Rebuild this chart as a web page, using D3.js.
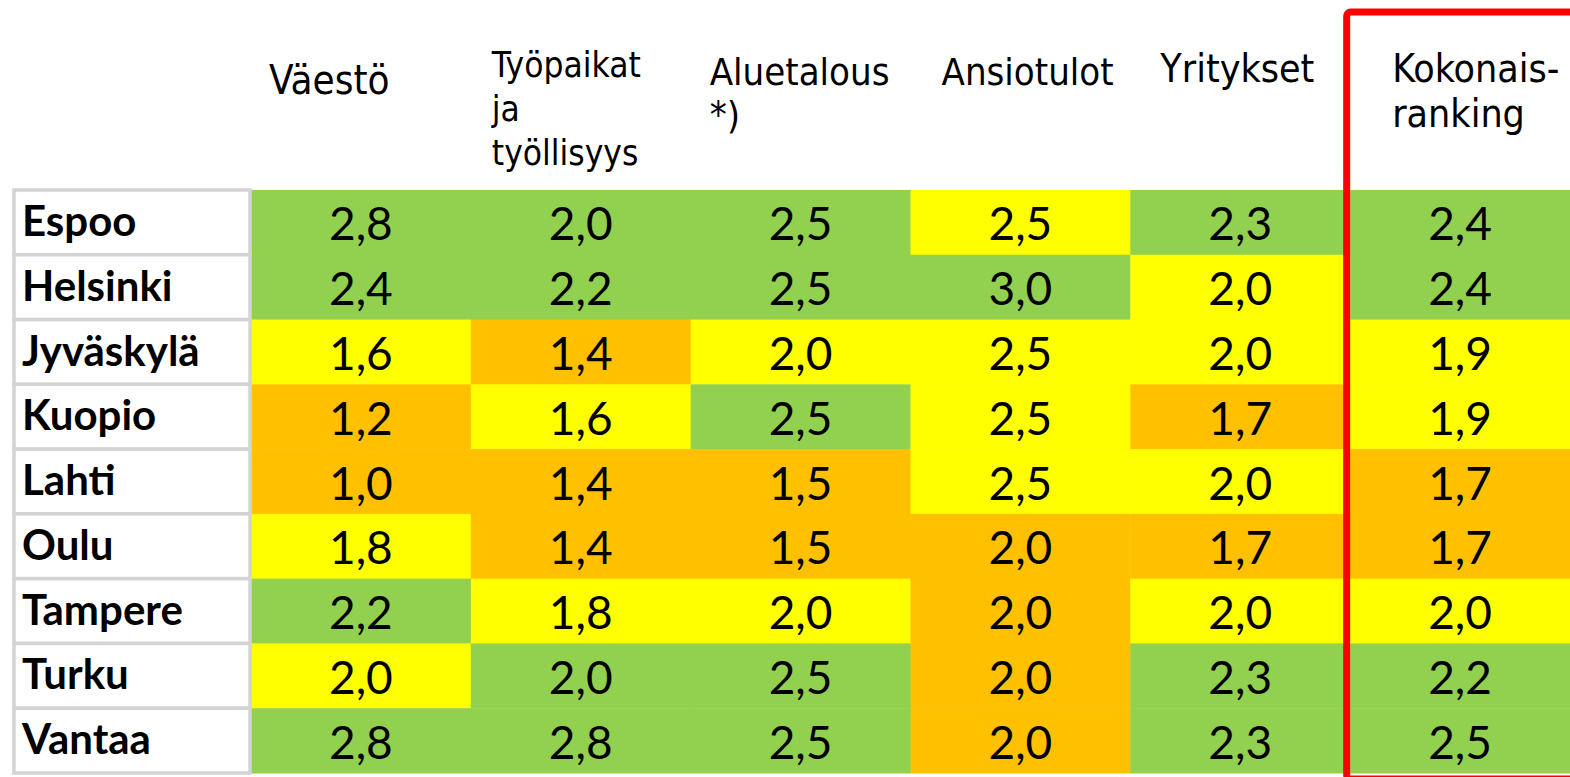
<!DOCTYPE html>
<html>
<head>
<meta charset="utf-8">
<script src="https://cdn.jsdelivr.net/npm/d3@7"></script>
<style>
  html, body { margin: 0; padding: 0; background: #fff; }
  svg { display: block; }
</style>
</head>
<body>
<script>
(function () {
  'use strict';

  // data
  const cities = ['Espoo', 'Helsinki', 'Jyväskylä', 'Kuopio', 'Lahti', 'Oulu', 'Tampere', 'Turku', 'Vantaa'];
  const columns = ['Väestö', 'Työpaikat ja työllisyys', 'Aluetalous *)', 'Ansiotulot', 'Yritykset', 'Kokonais-ranking'];
  const headerLines = [
    ['Väestö'],
    ['Työpaikat', 'ja', 'työllisyys'],
    ['Aluetalous', '*)'],
    ['Ansiotulot'],
    ['Yritykset'],
    ['Kokonais-', 'ranking']
  ];
  const vaesto      = [2.8, 2.4, 1.6, 1.2, 1.0, 1.8, 2.2, 2.0, 2.8];
  const tyopaikat   = [2.0, 2.2, 1.4, 1.6, 1.4, 1.4, 1.8, 2.0, 2.8];
  const aluetalous  = [2.5, 2.5, 2.0, 2.5, 1.5, 1.5, 2.0, 2.5, 2.5];
  const ansiotulot  = [2.5, 3.0, 2.5, 2.5, 2.5, 2.0, 2.0, 2.0, 2.0];
  const yritykset   = [2.3, 2.0, 2.0, 1.7, 2.0, 1.7, 2.0, 2.3, 2.3];
  const kokonais    = [2.4, 2.4, 1.9, 1.9, 1.7, 1.7, 2.0, 2.2, 2.5];
  const series = [vaesto, tyopaikat, aluetalous, ansiotulot, yritykset, kokonais];

  // colour class limits per column: [yellow from, green from]
  const limits = [[1.6, 2.2], [1.6, 2.0], [2.0, 2.5], [2.5, 3.0], [2.0, 2.3], [1.9, 2.2]];
  const tierColors = ['#FFC000', '#FFFF00', '#92D050'];

  // layout
  const W = 1570, H = 777;
  const top = 190, bottom = 773;
  const left = 251;
  // header text placement: [x offset in column, first baseline, font size, line gap]
  const headerStyle = [
    [18, 94, 40, 44],
    [21, 77, 35, 44],
    [19, 85, 38, 43],
    [31, 85, 38, 43],
    [30, 82, 39, 44],
    [42, 82, 39, 45]
  ];

  const svg = d3.select('body')
    .append('svg')
    .attr('width', W)
    .attr('height', H);

  const x = d3.scaleBand()
    .domain(columns)
    .range([left, W]);

  const y = d3.scaleBand()
    .domain(cities)
    .range([top, bottom]);

  // ===========================================================================
  // cells
  // ===========================================================================
  const cells = [];
  series.forEach((vals, ci) => {
    const color = d3.scaleThreshold()
      .domain(limits[ci])
      .range(tierColors);
    vals.forEach((v, ri) => {
      cells.push({ col: columns[ci], city: cities[ri], value: v, fill: color(v) });
    });
  });

  const fmt = v => d3.format('.1f')(v).replace('.', ',');

  svg.append('g')
    .selectAll('rect')
    .data(cells)
    .enter()
    .append('rect')
    .attr('x', d => x(d.col))
    .attr('y', d => y(d.city))
    .attr('width', x.bandwidth() + 0.5)
    .attr('height', y.bandwidth() + 0.5)
    .attr('fill', d => d.fill);

  svg.append('g')
    .selectAll('text')
    .data(cells)
    .enter()
    .append('text')
    .attr('x', d => x(d.col) + x.bandwidth() / 2)
    .attr('y', d => y(d.city) + y.bandwidth() / 2 + 18)
    .attr('text-anchor', 'middle')
    .attr('font-family', 'Lato, "Noto Sans", sans-serif')
    .attr('font-size', 46)
    .attr('fill', '#000')
    .text(d => fmt(d.value));

  // ===========================================================================
  // row labels
  // ===========================================================================
  const rows = svg.append('g')
    .selectAll('g')
    .data(cities)
    .enter()
    .append('g');

  rows.append('rect')
    .attr('x', 14)
    .attr('y', d => y(d))
    .attr('width', left - 15)
    .attr('height', y.bandwidth())
    .attr('fill', '#fff')
    .attr('stroke', '#D3D3D3')
    .attr('stroke-width', 3.5);

  rows.append('text')
    .attr('x', 22)
    .attr('y', d => y(d) + 46)
    .attr('font-family', 'Lato, "Noto Sans", sans-serif')
    .attr('font-weight', 'bold')
    .attr('font-size', 42)
    .attr('fill', '#000')
    .text(d => d);

  // ===========================================================================
  // headers
  // ===========================================================================
  const heads = svg.append('g')
    .selectAll('text')
    .data(columns)
    .enter()
    .append('text')
    .attr('font-family', '"DejaVu Sans Condensed", "DejaVu Sans", sans-serif')
    .attr('font-stretch', 'condensed')
    .attr('fill', '#000')
    .attr('font-size', (d, i) => headerStyle[i][2]);

  heads.selectAll('tspan')
    .data((d, i) => headerLines[i].map((t, k) => ({ t: t, k: k, i: i, col: d })))
    .enter()
    .append('tspan')
    .attr('x', d => x(d.col) + headerStyle[d.i][0])
    .attr('y', d => headerStyle[d.i][1] + d.k * headerStyle[d.i][3])
    .text(d => d.t);

  // ===========================================================================
  // red frame round the total column
  // ===========================================================================
  svg.append('rect')
    .attr('x', x(columns[columns.length - 1]) - 3.5)
    .attr('y', 12)
    .attr('width', 260)
    .attr('height', 767)
    .attr('rx', 4)
    .attr('fill', 'none')
    .attr('stroke', '#FF0000')
    .attr('stroke-width', 7);
})();
</script>
</body>
</html>
